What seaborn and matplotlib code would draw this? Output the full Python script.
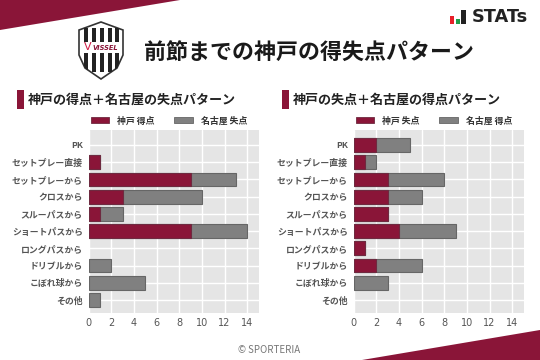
import matplotlib
matplotlib.use('Agg')
import matplotlib.pyplot as plt
from matplotlib.patches import Patch, Polygon, Rectangle
import pandas as pd
import seaborn as sns

# ========== DATA ==========
CATEGORIES = ['PK', 'セットプレー直接', 'セットプレーから', 'クロスから', 'スルーパスから',
              'ショートパスから', 'ロングパスから', 'ドリブルから', 'こぼれ球から', 'その他']
KOBE_FOR = [0, 1, 9, 3, 1, 9, 0, 0, 0, 0]
NAGOYA_AGAINST = [0, 0, 4, 7, 2, 5, 0, 2, 5, 1]
KOBE_AGAINST = [2, 1, 3, 3, 3, 4, 1, 2, 0, 0]
NAGOYA_FOR = [3, 1, 5, 3, 0, 5, 0, 4, 3, 0]
XTICKS = [0, 2, 4, 6, 8, 10, 12, 14]

MAROON = '#8a1538'
GREY = '#808080'
W, H = 540, 360

sns.set_theme(style='darkgrid')
plt.rcParams['font.family'] = ['Noto Sans CJK JP', 'DejaVu Sans']


def draw_panel(fig, left_px, kobe, nagoya, title, kobe_label, nagoya_label):
    """Stacked horizontal bars: grey total with the Kobe part on top."""
    ax = fig.add_axes([left_px / W, 1 - 312.7 / H, 170 / W, 182.7 / H])
    df = pd.DataFrame({'cat': CATEGORIES, 'kobe': kobe,
                       'total': [a + b for a, b in zip(kobe, nagoya)]})
    sns.barplot(data=df, y='cat', x='total', color=GREY, width=0.8, saturation=1,
                edgecolor='#666666', linewidth=0.8, ax=ax)
    sns.barplot(data=df, y='cat', x='kobe', color=MAROON, width=0.8, saturation=1,
                edgecolor='#6e2a40', linewidth=0.8, ax=ax)
    # empty bars should leave no outline on the axis
    for patch in ax.patches:
        if patch.get_width() == 0:
            patch.set_visible(False)

    ax.set_facecolor('#e5e5e5')
    ax.grid(True, color='white', linewidth=1)
    ax.set_axisbelow(True)
    ax.set_xlim(0, 15)
    ax.set_ylim(9.74, -0.87)
    ax.set_xticks(XTICKS)
    ax.set_xlabel('')
    ax.set_ylabel('')
    ax.tick_params(axis='x', labelsize=7, labelcolor='#555555', length=0, pad=4)
    ax.tick_params(axis='y', labelsize=6.4, labelcolor='#555555', length=0, pad=4)
    for lab in ax.get_yticklabels():
        lab.set_fontweight('bold')
    for lab in ax.get_xticklabels():
        lab.set_fontfamily('DejaVu Sans')
    for s in ax.spines.values():
        s.set_visible(False)

    handles = [Patch(facecolor=MAROON, edgecolor='#6e2a40', linewidth=0.6, label=kobe_label),
               Patch(facecolor=GREY, edgecolor='#666666', linewidth=0.6, label=nagoya_label)]
    ax.legend(handles=handles, ncol=2, frameon=False, loc='lower left',
              bbox_to_anchor=(0.012, 1.025), borderaxespad=0, borderpad=0,
              prop={'size': 6.4, 'weight': 'bold'}, labelcolor='#333333',
              handlelength=2.1, handleheight=0.6, handletextpad=0.9, columnspacing=2.2)

    # subtitle with its maroon marker
    fig.add_artist(Rectangle(((left_px - 71.5) / W, 1 - 109 / H), 6.5 / W, 19 / H,
                             transform=fig.transFigure, facecolor=MAROON, edgecolor='none'))
    fig.text((left_px - 60.5) / W, 1 - 99.5 / H, title, fontsize=9.4, fontweight='bold',
             color='#222222', ha='left', va='center')
    return ax


def draw_logo(over):
    """Rough Vissel shield drawn in pixel coordinates."""
    outline = [(79, 30), (101, 22), (123, 30), (123, 55), (117, 68), (101, 79), (85, 68), (79, 55)]
    over.add_patch(Polygon(outline, closed=True, facecolor='white', edgecolor='#333333', linewidth=1.2))
    for x in [84, 92, 100, 108, 115]:
        over.add_patch(Rectangle((x, 28), 4, 44, facecolor='#222222', edgecolor='none',
                                 clip_path=Polygon(outline, closed=True, transform=over.transData)))
    over.add_patch(Rectangle((80, 42), 42, 11, facecolor='white', edgecolor='none'))
    over.text(105, 48, 'VISSEL', fontsize=4.8, fontweight='bold', style='italic', color=MAROON,
              ha='center', va='center', family='DejaVu Sans')
    over.text(87.5, 47.5, 'V', fontsize=8, color='#d01c45', ha='center', va='center', family='DejaVu Sans')


fig = plt.figure(figsize=(5.4, 3.6), dpi=100)
fig.patch.set_facecolor('white')

# full-figure overlay in pixel coordinates for decoration
over = fig.add_axes([0, 0, 1, 1], zorder=5)
over.set_xlim(0, W)
over.set_ylim(H, 0)
over.axis('off')
over.patch.set_alpha(0)
over.add_patch(Polygon([(0, 0), (180, 0), (0, 30)], closed=True, facecolor=MAROON, edgecolor='none'))
over.add_patch(Polygon([(362, 360), (540, 330), (540, 360)], closed=True, facecolor=MAROON, edgecolor='none'))
draw_logo(over)

over.text(309, 53.5, '前節までの神戸の得失点パターン', fontsize=15.8, fontweight='bold', color='#1a1a1a',
          ha='center', va='center')

# STATs mark
over.add_patch(Rectangle((450, 16), 4, 8, facecolor='#e8202a', edgecolor='none'))
over.add_patch(Rectangle((456, 19), 4, 5, facecolor='#1f9e4a', edgecolor='none'))
over.add_patch(Rectangle((461, 10), 4.5, 14, facecolor='#222222', edgecolor='none'))
over.text(471.5, 17.5, 'STATs', fontsize=12.8, fontweight='bold', color='#222222', ha='left', va='center',
          family='DejaVu Sans')

over.text(269, 350, '© SPORTERIA', fontsize=7, color='#777777', ha='center', va='center')

draw_panel(fig, 88.5, KOBE_FOR, NAGOYA_AGAINST, '神戸の得点＋名古屋の失点パターン', '神戸 得点', '名古屋 失点')
draw_panel(fig, 353.5, KOBE_AGAINST, NAGOYA_FOR, '神戸の失点＋名古屋の得点パターン', '神戸 失点', '名古屋 得点')

fig.savefig('out.png', dpi=100)
